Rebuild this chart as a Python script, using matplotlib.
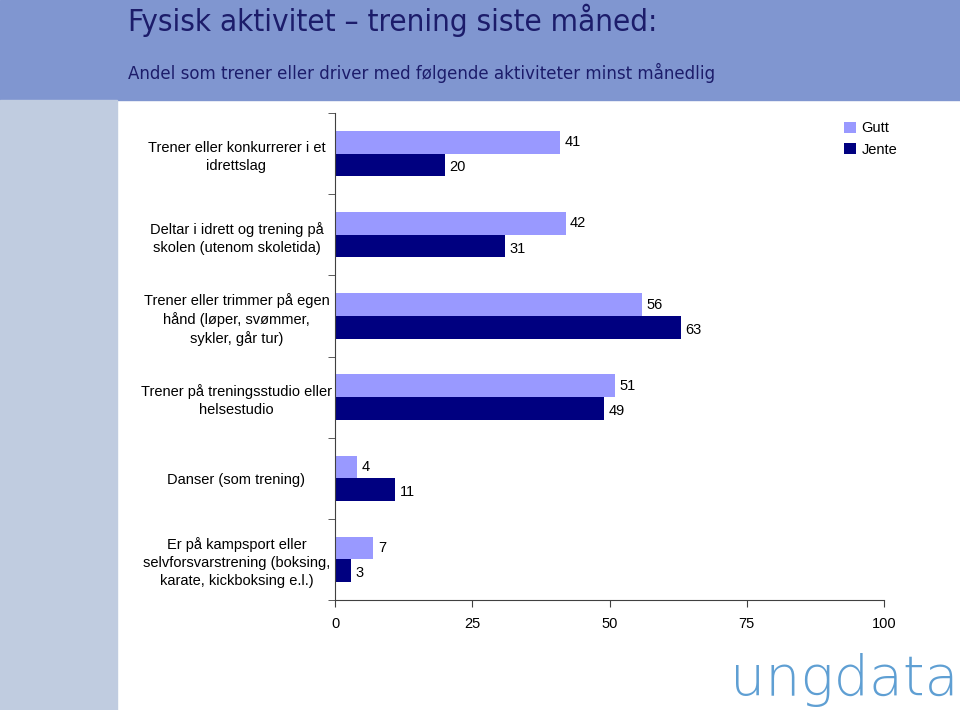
import numpy as np
import matplotlib.pyplot as plt
from matplotlib.patches import Rectangle

plt.rcParams['font.family'] = ['Liberation Sans', 'DejaVu Sans']

# ----------------------------
# Data
# ----------------------------
categories = [
    "Trener eller konkurrerer i et\nidrettslag",
    "Deltar i idrett og trening på\nskolen (utenom skoletida)",
    "Trener eller trimmer på egen\nhånd (løper, svømmer,\nsykler, går tur)",
    "Trener på treningsstudio eller\nhelsestudio",
    "Danser (som trening)",
    "Er på kampsport eller\nselvforsvarstrening (boksing,\nkarate, kickboksing e.l.)",
]
gutt = [41, 42, 56, 51, 4, 7]
jente = [20, 31, 63, 49, 11, 3]
x_ticks = [0, 25, 50, 75, 100]

c_gutt = "#9999ff"
c_jente = "#000080"

# ----------------------------
# Figure + background
# ----------------------------
fig = plt.figure(figsize=(9.6, 7.1), dpi=100)
fig.patches.append(Rectangle((0, 1 - 100 / 710), 1, 100 / 710, transform=fig.transFigure,
                             color="#8096d0", zorder=0))
fig.patches.append(Rectangle((0, 0), 117 / 960, 1 - 100 / 710, transform=fig.transFigure,
                             color="#c0cce0", zorder=0))

fig.text(128 / 960, 1 - 20 / 710, "Fysisk aktivitet \u2013 trening siste måned:",
         fontsize=22.5, color="#1c1c6a", va="center", ha="left", family="DejaVu Sans",
         fontstretch="condensed")
fig.text(128 / 960, 1 - 73 / 710, "Andel som trener eller driver med følgende aktiviteter minst månedlig",
         fontsize=13.3, color="#1c1c6a", va="center", ha="left", family="DejaVu Sans",
         fontstretch="condensed")

# ----------------------------
# Chart
# ----------------------------
ax = fig.add_axes([335 / 960, 1 - 600 / 710, (884 - 335) / 960, (600 - 113) / 710])
y = np.arange(len(categories))
h = 0.28
ax.barh(y - h / 2, gutt, height=h, color=c_gutt, label="Gutt")
ax.barh(y + h / 2, jente, height=h, color=c_jente, label="Jente")

for yi, g, j in zip(y, gutt, jente):
    ax.text(g + 0.8, yi - h / 2, str(g), va="center", ha="left", fontsize=10.5)
    ax.text(j + 0.8, yi + h / 2 + 0.03, str(j), va="center", ha="left", fontsize=10.5)

ax.set_xlim(0, 100)
ax.set_ylim(len(categories) - 0.5, -0.5)
ax.set_xticks(x_ticks)
ax.set_xticklabels([str(t) for t in x_ticks], fontsize=10.5)
ax.set_yticks(y)
ax.set_yticklabels(categories, fontsize=10.5, ha="center", linespacing=1.35)
ax.tick_params(axis="y", length=0, pad=71)
ax.set_yticks(np.arange(-0.5, len(categories)), minor=True)
ax.tick_params(axis="y", which="minor", length=5, color="#404040")
ax.tick_params(axis="x", length=5, color="#404040", pad=7)

for s in ["top", "right"]:
    ax.spines[s].set_visible(False)
for s in ["left", "bottom"]:
    ax.spines[s].set_color("#404040")

leg = ax.legend(loc="upper left", bbox_to_anchor=(0.903, 1.01), frameon=False,
                fontsize=10.5, handlelength=0.8, handleheight=0.8, handletextpad=0.4,
                labelspacing=0.5)

fig.text(958 / 960, 1 - 695 / 710, "ungdata", fontsize=40, color="#5f9fd3", ha="right",
         va="baseline", family="DejaVu Sans", fontweight="light")

plt.savefig("out.png", dpi=100)
plt.close()
